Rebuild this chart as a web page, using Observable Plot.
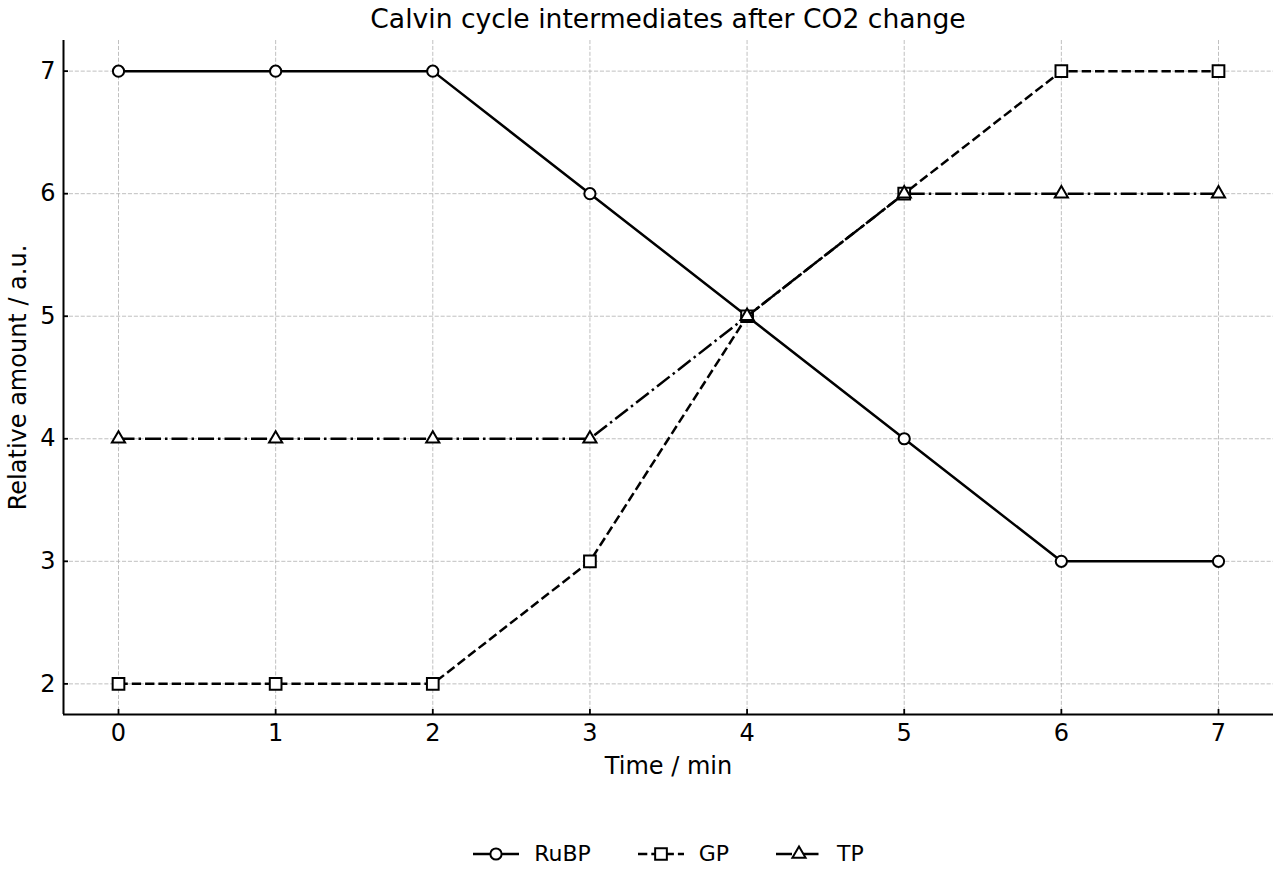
<!DOCTYPE html>
<html><head><meta charset="utf-8">
<script src="https://cdn.jsdelivr.net/npm/d3@7"></script>
<script src="https://cdn.jsdelivr.net/npm/@observablehq/plot@0.6"></script>
<style>
body{margin:0;background:#fff;font-family:"DejaVu Sans",sans-serif;color:#000;}
#wrap{position:relative;width:1280px;height:880px;overflow:hidden;}
#title{position:absolute;left:63px;top:0;width:1210px;text-align:center;font-size:26.6px;line-height:38px;}
#chart{position:absolute;left:0;top:0;}
#legend{position:absolute;left:0;top:841px;width:1336px;display:flex;justify-content:center;align-items:center;font-size:22px;}
.item{display:flex;align-items:center;margin:0 23px;}
.item svg{margin-right:14px;}
</style></head><body>
<div id="wrap">
<div id="chart"></div>
<div id="title">Calvin cycle intermediates after CO2 change</div>
<div id="legend"></div>
</div>
<script>
const time = [0, 1, 2, 3, 4, 5, 6, 7];
const rubp = [7, 7, 7, 6, 5, 4, 3, 3];
const gp   = [2, 2, 2, 3, 5, 6, 7, 7];
const tp   = [4, 4, 4, 4, 5, 6, 6, 6];
const seriesNames = ["RuBP", "GP", "TP"];
const xTicks = [0, 1, 2, 3, 4, 5, 6, 7];
const yTicks = [2, 3, 4, 5, 6, 7];
const xLabel = "Time / min";
const yLabel = "Relative amount / a.u.";

const styles = {
  RuBP: {symbol: "circle", r: 5.6, dash: null},
  GP: {symbol: "square", r: 6.6, dash: "9.3,4"},
  TP: {symbol: "triangle", r: 4.9, dash: "16,4,2.5,4"}
};
const valuesBy = {RuBP: rubp, GP: gp, TP: tp};
const rows = seriesNames.map(name => time.map((t, i) => ({series: name, t, v: valuesBy[name][i]})));

const xDom = [-0.35, 7.35], yDom = [1.75, 7.25];
const grid = {stroke: "#b0b0b0", strokeOpacity: 1, strokeWidth: 0.8, strokeDasharray: "4.1,1.8"};

const marks = [
  Plot.gridX(xTicks, grid),
  Plot.gridY(yTicks, grid),
  Plot.ruleX([xDom[0]], {stroke: "#000", strokeWidth: 2}),
  Plot.ruleY([yDom[0]], {stroke: "#000", strokeWidth: 2}),
  Plot.axisX(xTicks, {tickSize: -5, tickPadding: 14, fontSize: 24, label: null, strokeWidth: 1.8, tickFormat: d => String(d)}),
  Plot.axisY(yTicks, {tickSize: -5, tickPadding: 13, fontSize: 24, label: null, strokeWidth: 1.8, tickFormat: d => String(d)})
];
rows.forEach((data, k) => {
  const s = styles[seriesNames[k]];
  marks.push(Plot.line(data, {x: "t", y: "v", stroke: "#000", strokeWidth: 2.5, strokeDasharray: s.dash, strokeLinecap: "butt", strokeLinejoin: "round"}));
  marks.push(Plot.dot(data, {x: "t", y: "v", symbol: s.symbol, r: s.r, fill: "#fff", stroke: "#000", strokeWidth: 2}));
});
marks.push(Plot.text([xLabel], {text: d => d, frameAnchor: "bottom", lineAnchor: "middle", dy: 52, fontSize: 24}));
marks.push(Plot.text([yLabel], {text: d => d, frameAnchor: "left", textAnchor: "middle", lineAnchor: "middle", rotate: -90, dx: -45, fontSize: 24}));

const chart = Plot.plot({
  width: 1280, height: 800,
  marginLeft: 63, marginRight: 7, marginTop: 40, marginBottom: 86,
  x: {domain: xDom}, y: {domain: yDom},
  style: {fontFamily: "DejaVu Sans", color: "#000", background: "transparent"},
  marks
});
// enforce tick-label size directly on the rendered digit labels
d3.select(chart).selectAll("text")
  .filter(function() { return /^\d$/.test(this.textContent.trim()); })
  .style("font-size", "24px");
document.getElementById("chart").appendChild(chart);

// legend
const legend = document.getElementById("legend");
const ns = "http://www.w3.org/2000/svg";
seriesNames.forEach(name => {
  const s = styles[name];
  const item = document.createElement("div"); item.className = "item";
  const svg = document.createElementNS(ns, "svg");
  svg.setAttribute("width", 48); svg.setAttribute("height", 24);
  const line = document.createElementNS(ns, "line");
  line.setAttribute("x1", 1); line.setAttribute("x2", 47); line.setAttribute("y1", 12); line.setAttribute("y2", 12);
  line.setAttribute("stroke", "#000"); line.setAttribute("stroke-width", 2.5);
  if (s.dash) line.setAttribute("stroke-dasharray", s.dash);
  svg.appendChild(line);
  const sym = {circle: d3.symbolCircle, square: d3.symbolSquare, triangle: d3.symbolTriangle}[s.symbol];
  const path = document.createElementNS(ns, "path");
  path.setAttribute("d", d3.symbol(sym, s.r * s.r * Math.PI)());
  path.setAttribute("transform", "translate(24,12)");
  path.setAttribute("fill", "#fff"); path.setAttribute("stroke", "#000"); path.setAttribute("stroke-width", 2);
  svg.appendChild(path);
  item.appendChild(svg);
  const lab = document.createElement("span"); lab.textContent = name;
  item.appendChild(lab);
  legend.appendChild(item);
});
</script>
</body></html>
